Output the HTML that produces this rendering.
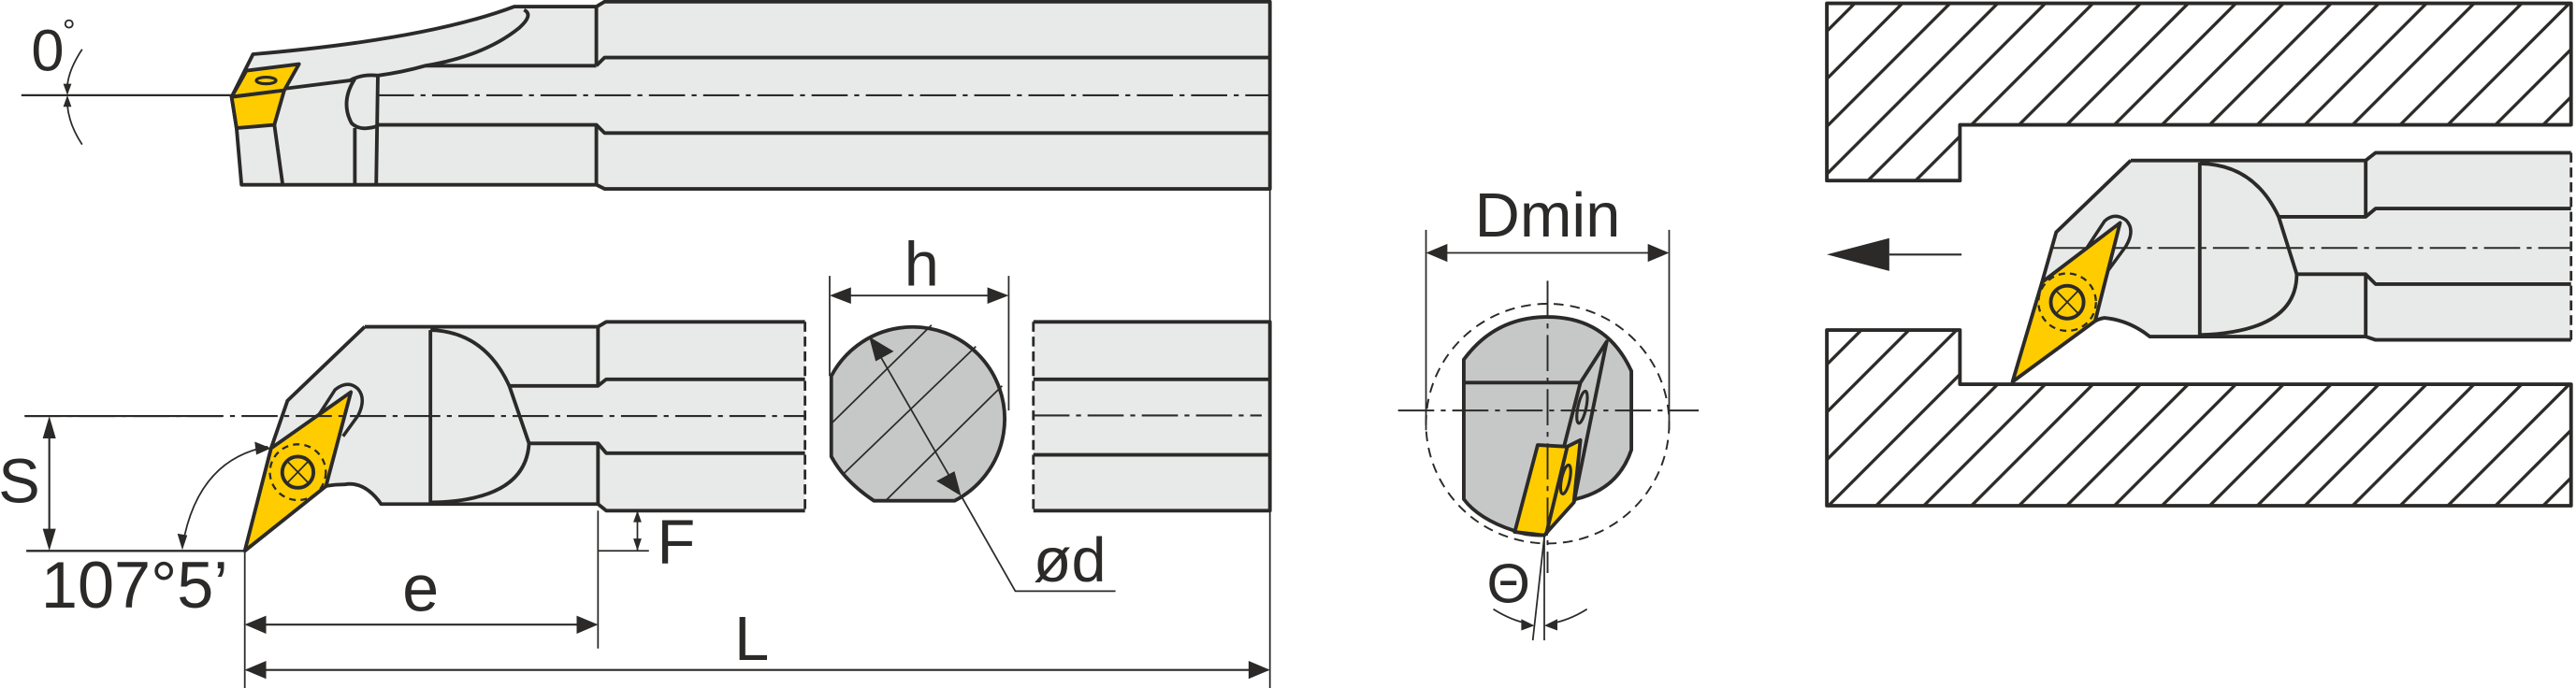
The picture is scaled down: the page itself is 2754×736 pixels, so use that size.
<!DOCTYPE html>
<html><head><meta charset="utf-8"><style>
html,body{margin:0;padding:0;background:#fff;}
svg{display:block;}
text{font-family:"Liberation Sans",sans-serif;fill:#2b2a29;}
</style></head><body>
<svg width="2754" height="736" viewBox="0 0 1568 419" xmlns="http://www.w3.org/2000/svg">
<defs>
<pattern id="hat" patternUnits="userSpaceOnUse" width="29" height="29">
<path d="M-3,32 L32,-3 M-3,3 L3,-3 M26,32 L32,26" stroke="#2b2a29" stroke-width="1.9"/>
</pattern>
</defs>
<g stroke="#2b2a29" stroke-linejoin="round" fill="none">

<!-- ===== TOP VIEW TOOL ===== -->
<path d="M141,59 L154,33 Q260,24 313,4 L363,4 L368,1 L773,1 L773,115 L368,115 L363,112.5 L147,112.5 L144,78 Z" fill="#e8eae9" stroke-width="2.2"/>
<path d="M319,6 Q325,9 316,17 Q295,34 259,40 Q245,44 230,46" stroke-width="2.2"/>
<line x1="259" y1="40" x2="363" y2="40" stroke-width="2.2"/>
<path d="M363,40 L368,35 L773,35" stroke-width="2.2"/>
<path d="M363,4 L363,40 M363,76 L363,112.5" stroke-width="2.2"/>
<path d="M229,76 L363,76 L368,81 L773,81" stroke-width="2.2"/>
<path d="M173,54 L213,49 Q220,45 230,46 L229,112" stroke-width="2.2"/>
<path d="M216,48 Q207,62 214,75 Q219,80 229,77 M216,78 L216,112" stroke-width="2.2"/>
<path d="M167,76 L172,112" stroke-width="2.2"/>
<polygon points="141,59 150,43 182,39 173,55" fill="#ffcc00" stroke-width="2.2"/>
<polygon points="141,59 173,55 167,76 144,78" fill="#ffcc00" stroke-width="2.2"/>
<ellipse cx="162" cy="49" rx="6" ry="2" stroke-width="1.8"/>
<line x1="230" y1="58" x2="773" y2="58" stroke-width="1.2" stroke-dasharray="22 4 3 4"/>
<line x1="13" y1="58" x2="141" y2="58" stroke-width="1.3"/>
<path d="M50,30 Q42,42 41,52 M41,64 Q42,76 50,88" stroke-width="1"/>
<polygon points="41,58 38.5,51 43.5,51" fill="#2b2a29" stroke="none"/>
<polygon points="41,58 38.5,65 43.5,65" fill="#2b2a29" stroke="none"/>

<!-- ===== SIDE VIEW TOOL ===== -->
<path d="M222,199 L364,199 L369,196 L490,196 L490,311 L369,311 L364,307 L232,307 Q222,293 210,295 L198,296 L149,335.5 L165,273 L175,244 Z" fill="#e8eae9" stroke="none"/>
<path d="M222,199 L364,199 L369,196 L490,196 M490,311 L369,311 L364,307 L232,307 Q222,293 210,295 Q204,295 198,296 M222,199 L175,244 L165,273" stroke-width="2.2"/>
<path d="M364,199 L364,235 M364,270 L364,307" stroke-width="2.2"/>
<path d="M310,235 L364,235 L369,231 L490,231 M322,270 L364,270 L369,276 L490,276" stroke-width="2.2"/>
<line x1="262" y1="201" x2="262" y2="307" stroke-width="2.2"/>
<path d="M262,201 Q295,202 310,235 L322,270 Q320,305 262,306" stroke-width="2.2"/>
<line x1="490" y1="196" x2="490" y2="311" stroke-width="1.6" stroke-dasharray="6 3"/>
<polygon points="149,335.5 165,273 213.6,238.8 198.4,296.1" fill="#ffcc00" stroke-width="2.2"/>
<path d="M193.6,253.4 L204,237.3 Q212,231 218,237 Q223,243 218,253 L208.8,265.7" stroke-width="2"/>
<circle cx="181.3" cy="287.6" r="17" stroke-width="1.3" stroke-dasharray="4 3"/>
<circle cx="181.3" cy="287.6" r="9.5" stroke-width="2.2"/>
<path d="M175,281 L187.6,294 M187.6,281 L175,294" stroke-width="1"/>
<line x1="15" y1="253.4" x2="490" y2="253.4" stroke-width="1.2" stroke-dasharray="22 4 3 4"/>
<line x1="15" y1="253.4" x2="135" y2="253.4" stroke-width="1.2"/>
<line x1="16" y1="335.5" x2="149" y2="335.5" stroke-width="1.3"/>
<line x1="30" y1="258" x2="30" y2="331" stroke-width="1.2"/>
<polygon points="30,253.4 26,267 34,267" fill="#2b2a29" stroke="none"/>
<polygon points="30,335.5 26,322 34,322" fill="#2b2a29" stroke="none"/>
<path d="M163,272 Q120,280 111,333" stroke-width="1"/>
<polygon points="165,273 155,269 156,277" fill="#2b2a29" stroke="none"/>
<polygon points="111,335 108,325 114,326" fill="#2b2a29" stroke="none"/>
<line x1="364" y1="335.5" x2="395" y2="335.5" stroke-width="1"/>
<line x1="388" y1="312" x2="388" y2="335" stroke-width="1"/>
<polygon points="388,311 385.5,318 390.5,318" fill="#2b2a29" stroke="none"/>
<polygon points="388,335.5 385.5,328 390.5,328" fill="#2b2a29" stroke="none"/>
<line x1="364" y1="311" x2="364" y2="395" stroke-width="1"/>
<line x1="149" y1="336" x2="149" y2="419" stroke-width="1"/>
<line x1="773" y1="115" x2="773" y2="419" stroke-width="1"/>
<line x1="150" y1="380.4" x2="363" y2="380.4" stroke-width="1.2"/>
<polygon points="149,380.4 162,375 162,386" fill="#2b2a29" stroke="none"/>
<polygon points="364,380.4 351,375 351,386" fill="#2b2a29" stroke="none"/>
<line x1="150" y1="408" x2="772" y2="408" stroke-width="1.2"/>
<polygon points="149,408 162,402.5 162,413.5" fill="#2b2a29" stroke="none"/>
<polygon points="773,408 760,402.5 760,413.5" fill="#2b2a29" stroke="none"/>

<!-- ===== ROUND SECTION ===== -->
<path d="M506,229 A56,56 0 1 1 581,305 L532,305 Q514,293 506,278 Z" fill="#c6c8c7" stroke-width="2.2"/>
<path d="M567,198 L506,258 M594,211 L513,289 M610,235 L539,305" stroke-width="1"/>
<line x1="533" y1="212" x2="582" y2="297" stroke-width="1"/>
<polygon points="529,205 544,214 533,220" fill="#2b2a29" stroke="none"/>
<polygon points="585,302 570,293 581,287" fill="#2b2a29" stroke="none"/>
<path d="M585,302 L618,360 L679,360" stroke-width="1"/>
<path d="M505,168 L505,229 M614,168 L614,250" stroke-width="1"/>
<line x1="510" y1="180" x2="609" y2="180" stroke-width="1"/>
<polygon points="505,180 518,175 518,185" fill="#2b2a29" stroke="none"/>
<polygon points="614,180 601,175 601,185" fill="#2b2a29" stroke="none"/>
<rect x="629" y="196" width="144" height="115" fill="#e8eae9" stroke="none"/>
<path d="M629,196 L773,196 L773,311 L629,311 M629,231 L773,231 M629,277 L773,277" stroke-width="2.2"/>
<line x1="629" y1="196" x2="629" y2="311" stroke-width="1.6" stroke-dasharray="6 3"/>
<line x1="629" y1="253" x2="768" y2="253" stroke-width="1.2" stroke-dasharray="22 4 3 4"/>

<!-- ===== END VIEW ===== -->
<path d="M891,219 Q910,193 942,193 Q978,193 993,226 L993,274 Q985,298 959,304 L940,326 Q928,326 921,323 Q900,316 891,304 Z" fill="#c6c8c7" stroke-width="2.2"/>
<line x1="891" y1="233" x2="962" y2="233" stroke-width="2.2"/>
<path d="M962,233 L978,208 L958,306 M962,233 L952,272" stroke-width="2.2"/>
<polygon points="936,271 954,272 962,268 958,306 940,326 922,324" fill="#ffcc00" stroke-width="2.2"/>
<path d="M954,272 L941,326" stroke-width="2.2"/>
<ellipse cx="963" cy="248" rx="2.5" ry="10" transform="rotate(12 963 248)" stroke-width="1.8"/>
<ellipse cx="953" cy="292" rx="2.5" ry="9" transform="rotate(12 953 292)" stroke-width="1.8"/>
<ellipse cx="942" cy="258" rx="74" ry="73" stroke-width="1.1" stroke-dasharray="6 4"/>
<line x1="851" y1="250" x2="1034" y2="250" stroke-width="1.1" stroke-dasharray="22 4 3 4"/>
<line x1="942" y1="171" x2="942" y2="349" stroke-width="1.1" stroke-dasharray="22 4 3 4"/>
<line x1="868" y1="140" x2="868" y2="262" stroke-width="1"/>
<line x1="1016" y1="140" x2="1016" y2="262" stroke-width="1"/>
<line x1="870" y1="154" x2="1014" y2="154" stroke-width="1"/>
<polygon points="868,154 881,148.5 881,159.5" fill="#2b2a29" stroke="none"/>
<polygon points="1016,154 1003,148.5 1003,159.5" fill="#2b2a29" stroke="none"/>
<line x1="940" y1="327" x2="940" y2="390" stroke-width="1"/>
<line x1="940" y1="327" x2="933" y2="390" stroke-width="1"/>
<path d="M909,371 Q920,378 931,380 M966,371 Q955,378 943,380" stroke-width="1"/>
<polygon points="934,381 926,377 926,384" fill="#2b2a29" stroke="none"/>
<polygon points="940,381 948,377 948,384" fill="#2b2a29" stroke="none"/>

<!-- ===== RIGHT PANEL ===== -->
<path d="M1112,2 L1565,2 L1565,76 L1193,76 L1193,110 L1112,110 Z" fill="url(#hat)" stroke-width="2.2"/>
<path d="M1112,201 L1193,201 L1193,234 L1565,234 L1565,308 L1112,308 Z" fill="url(#hat)" stroke-width="2.2"/>
<line x1="1194" y1="155" x2="1150" y2="155" stroke-width="1.2"/>
<polygon points="1112,155 1150,145 1150,165" fill="#2b2a29" stroke="none"/>
<path d="M1297,97.7 L1440,97.7 L1446,93 L1565,93 L1565,207 L1446,207 L1440,205 L1308.6,205 Q1296,196 1281,193.6 L1275.3,195.5 L1225,232.5 L1243,171.8 L1251.6,141.4 Z" fill="#e8eae9" stroke="none"/>
<path d="M1297,97.7 L1440,97.7 L1446,93 L1565,93 M1565,207 L1446,207 L1440,205 L1308.6,205 Q1296,195 1281,193.6 Q1278,194 1275.3,195.5 M1297,97.7 L1251.6,141.4 L1243,171.8" stroke-width="2.2"/>
<path d="M1440,97.7 L1440,132 M1440,167 L1440,205" stroke-width="2.2"/>
<path d="M1387,132 L1440,132 L1446,127 L1565,127 M1398,167 L1440,167 L1446,173 L1565,173" stroke-width="2.2"/>
<line x1="1339" y1="99" x2="1339" y2="205" stroke-width="2.2"/>
<path d="M1339,99.6 Q1372,100 1387,132 L1398,167 Q1398,202 1339,204" stroke-width="2.2"/>
<line x1="1565" y1="93" x2="1565" y2="207" stroke-width="1.6" stroke-dasharray="6 3"/>
<line x1="1248" y1="151" x2="1565" y2="151" stroke-width="1.2" stroke-dasharray="22 4 3 4"/>
<polygon points="1225,232.5 1243,171.8 1290.5,135.7 1275.3,195.5" fill="#ffcc00" stroke-width="2.2"/>
<path d="M1269.7,151.8 L1281,134.7 Q1287,129 1294,134 Q1300,140 1294,150 L1283,165" stroke-width="2"/>
<circle cx="1258.3" cy="184" r="17.5" stroke-width="1.3" stroke-dasharray="4 3"/>
<circle cx="1258.3" cy="184" r="10" stroke-width="2.2"/>
<path d="M1252,177.5 L1264.6,190.5 M1264.6,177.5 L1252,190.5" stroke-width="1"/>
</g>

<text x="19" y="43" font-size="36">0</text>
<text x="38" y="26" font-size="20">°</text>
<text x="-1" y="306" font-size="38">S</text>
<text x="25" y="370" font-size="40">107°5’</text>
<text x="400" y="343" font-size="38">F</text>
<text x="256" y="372" font-size="40" text-anchor="middle">e</text>
<text x="447" y="402" font-size="38">L</text>
<text x="561" y="174" font-size="38" text-anchor="middle">h</text>
<text x="629" y="354" font-size="38">ød</text>
<text x="942" y="144" font-size="38" text-anchor="middle">Dmin</text>
<text x="905" y="367" font-size="34">Θ</text>
</svg>
</body></html>
